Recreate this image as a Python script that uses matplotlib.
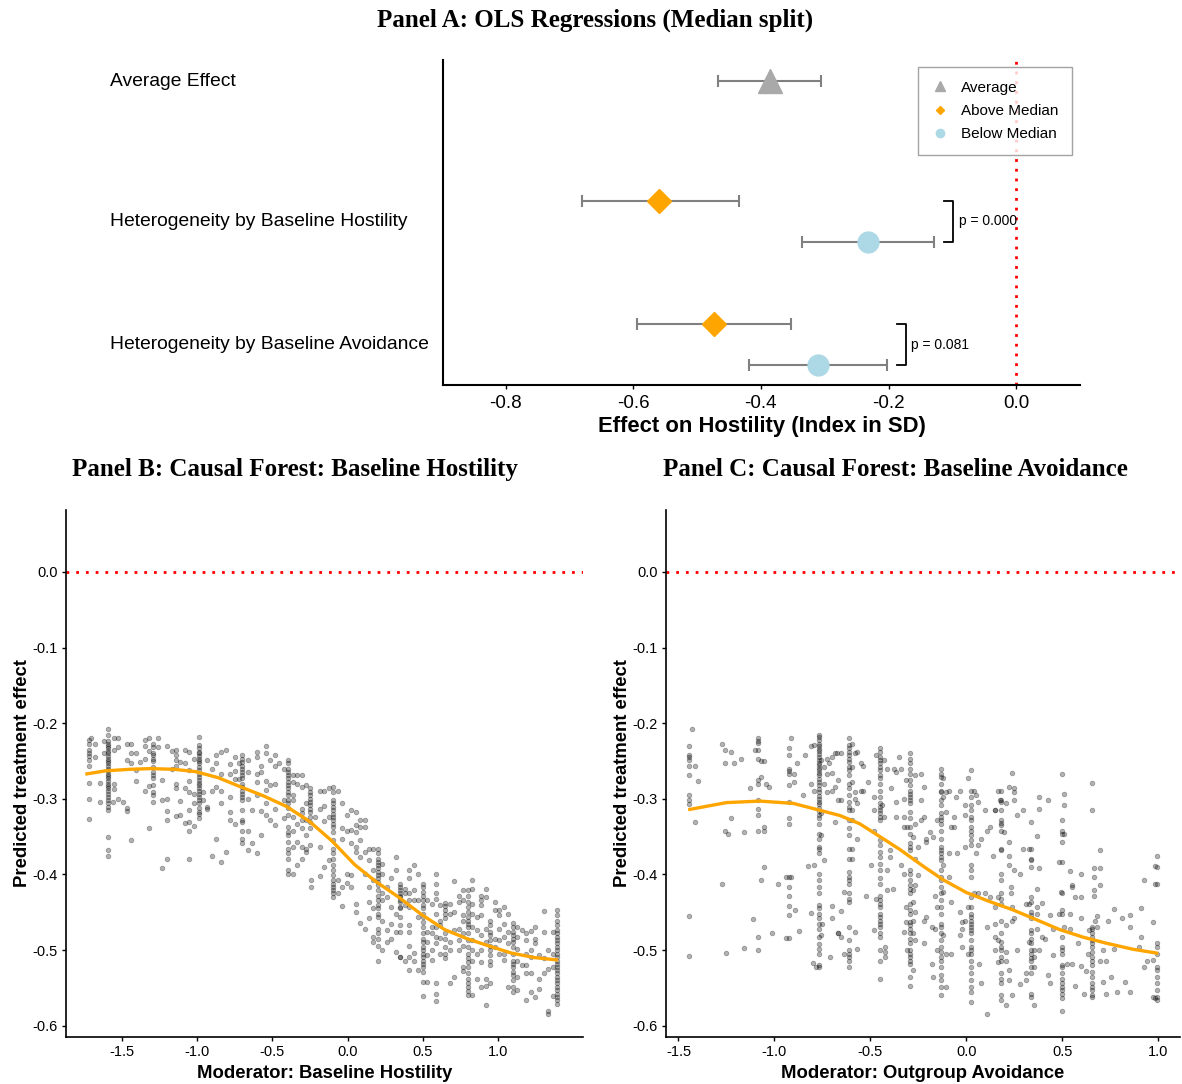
import numpy as np
import matplotlib.pyplot as plt
from matplotlib.lines import Line2D
from matplotlib.transforms import blended_transform_factory

plt.rcParams['font.family'] = ['Liberation Sans', 'DejaVu Sans']
plt.rcParams['axes.unicode_minus'] = False

# ---- Panel A: OLS estimates with 95% CIs ----
row_labels = ["Average Effect", "Heterogeneity by Baseline Hostility",
              "Heterogeneity by Baseline Avoidance"]
avg_est, avg_lo, avg_hi = -0.386, -0.467, -0.306
above_est = [-0.559, -0.474]
above_lo = [-0.681, -0.594]
above_hi = [-0.435, -0.352]
below_est = [-0.232, -0.311]
below_lo = [-0.335, -0.418]
below_hi = [-0.129, -0.203]
p_values = ["0.000", "0.081"]

# ---- Panel B: causal forest, baseline hostility ----
b_col_x = [-1.72, -1.59, -1.29, -0.99, -0.70, -0.394, -0.248, -0.097, 0.20, 0.35,
           0.497, 0.647, 0.796, 0.944, 1.095, 1.392]
b_col_y = [
    [-0.222, -0.227, -0.236, -0.240, -0.244, -0.248, -0.256, -0.279, -0.300, -0.327],
    [-0.207, -0.216, -0.223, -0.227, -0.230, -0.233, -0.237, -0.240, -0.244, -0.247, -0.250,
     -0.253, -0.257, -0.260, -0.263, -0.267, -0.270, -0.273, -0.276, -0.280, -0.283, -0.286,
     -0.290, -0.293, -0.297, -0.302, -0.306, -0.311, -0.315, -0.351, -0.368, -0.376],
    [-0.227, -0.231, -0.239, -0.242, -0.247, -0.250, -0.258, -0.264, -0.269, -0.273, -0.282,
     -0.291, -0.295, -0.304],
    [-0.218, -0.229, -0.233, -0.238, -0.240, -0.244, -0.247, -0.250, -0.253, -0.258, -0.262,
     -0.267, -0.271, -0.275, -0.279, -0.282, -0.286, -0.289, -0.293, -0.297, -0.302, -0.306,
     -0.312, -0.317, -0.320, -0.325],
    [-0.242, -0.247, -0.251, -0.256, -0.260, -0.264, -0.269, -0.273, -0.280, -0.284, -0.289,
     -0.293, -0.297, -0.302, -0.315, -0.328, -0.330, -0.342, -0.353, -0.359],
    [-0.249, -0.253, -0.260, -0.264, -0.269, -0.273, -0.278, -0.282, -0.286, -0.291, -0.295,
     -0.302, -0.306, -0.312, -0.322, -0.337, -0.344, -0.348, -0.357, -0.366, -0.372, -0.379,
     -0.394, -0.400],
    [-0.286, -0.291, -0.295, -0.300, -0.304, -0.308, -0.313, -0.317, -0.324, -0.331, -0.339,
     -0.361],
    [-0.284, -0.291, -0.302, -0.306, -0.311, -0.315, -0.320, -0.324, -0.328, -0.333, -0.337,
     -0.344, -0.355, -0.366, -0.372, -0.379, -0.388, -0.394, -0.401, -0.408, -0.412, -0.416,
     -0.421, -0.425, -0.430],
    [-0.366, -0.372, -0.379, -0.383, -0.388, -0.392, -0.397, -0.401, -0.405, -0.410, -0.414,
     -0.421, -0.428, -0.434, -0.441, -0.445, -0.452, -0.456, -0.472, -0.478, -0.485, -0.494],
    [-0.412, -0.416, -0.421, -0.425, -0.430, -0.434, -0.436, -0.443, -0.445, -0.456, -0.467,
     -0.476, -0.509],
    [-0.412, -0.416, -0.423, -0.428, -0.434, -0.441, -0.445, -0.452, -0.456, -0.463, -0.469,
     -0.478, -0.485, -0.489, -0.496, -0.500, -0.505, -0.509, -0.514, -0.518, -0.522, -0.529],
    [-0.438, -0.442, -0.447, -0.452, -0.458, -0.478, -0.485, -0.496, -0.505, -0.511],
    [-0.421, -0.428, -0.436, -0.443, -0.450, -0.456, -0.461, -0.465, -0.469, -0.478, -0.487,
     -0.496, -0.505, -0.511, -0.516, -0.522, -0.531, -0.538, -0.544, -0.549, -0.554, -0.560],
    [-0.461, -0.467, -0.476, -0.480, -0.487, -0.494, -0.500, -0.507, -0.514, -0.520, -0.544],
    [-0.464, -0.469, -0.476, -0.480, -0.485, -0.489, -0.496, -0.505, -0.514, -0.518, -0.522,
     -0.529, -0.533, -0.540, -0.549, -0.555],
    [-0.447, -0.454, -0.461, -0.467, -0.474, -0.478, -0.483, -0.487, -0.491, -0.496, -0.500,
     -0.505, -0.509, -0.514, -0.518, -0.522, -0.527, -0.531, -0.536, -0.540, -0.544, -0.549,
     -0.553, -0.558, -0.562, -0.566, -0.572],
]
b_scatter = [
    (-1.704, -0.220), (-1.676, -0.227), (-1.676, -0.245), (-1.645, -0.279), (-1.645, -0.304),
    (-1.616, -0.223), (-1.616, -0.240), (-1.554, -0.219), (-1.525, -0.219), (-1.525, -0.231),
    (-1.554, -0.236), (-1.554, -0.280), (-1.554, -0.287), (-1.560, -0.304), (-1.525, -0.300),
    (-1.494, -0.304), (-1.465, -0.312), (-1.465, -0.316), (-1.436, -0.355), (-1.465, -0.227),
    (-1.436, -0.228), (-1.436, -0.239), (-1.436, -0.253), (-1.465, -0.248), (-1.405, -0.239),
    (-1.405, -0.262), (-1.405, -0.276), (-1.376, -0.251), (-1.348, -0.222), (-1.348, -0.230),
    (-1.348, -0.247), (-1.348, -0.289), (-1.319, -0.219), (-1.319, -0.237), (-1.319, -0.283),
    (-1.319, -0.338), (-1.259, -0.220), (-1.259, -0.232), (-1.230, -0.275), (-1.230, -0.302),
    (-1.199, -0.230), (-1.199, -0.300), (-1.199, -0.316), (-1.199, -0.328), (-1.168, -0.237),
    (-1.168, -0.260), (-1.139, -0.235), (-1.139, -0.242), (-1.139, -0.249), (-1.139, -0.256),
    (-1.139, -0.281), (-1.139, -0.286), (-1.139, -0.323), (-1.110, -0.251), (-1.110, -0.303),
    (-1.110, -0.322), (-1.079, -0.236), (-1.079, -0.253), (-1.079, -0.286), (-1.079, -0.332),
    (-1.051, -0.238), (-1.051, -0.262), (-1.051, -0.276), (-1.051, -0.291), (-1.051, -0.315),
    (-1.051, -0.330), (-1.051, -0.342), (-1.022, -0.247), (-1.022, -0.293), (-1.022, -0.306),
    (-1.022, -0.336), (-1.199, -0.379), (-1.230, -0.391), (-1.051, -0.379), (-0.962, -0.291),
    (-0.962, -0.302), (-0.931, -0.249), (-0.931, -0.311), (-0.931, -0.314), (-0.900, -0.261),
    (-0.900, -0.289), (-0.900, -0.375), (-0.871, -0.242), (-0.871, -0.253), (-0.871, -0.285),
    (-0.871, -0.353), (-0.842, -0.238), (-0.842, -0.267), (-0.842, -0.289), (-0.842, -0.306),
    (-0.842, -0.383), (-0.811, -0.236), (-0.811, -0.370), (-0.782, -0.254), (-0.782, -0.267),
    (-0.782, -0.297), (-0.782, -0.317), (-0.782, -0.328), (-0.751, -0.245), (-0.751, -0.263),
    (-0.751, -0.274), (-0.751, -0.333), (-0.723, -0.253), (-0.723, -0.274),
    (-0.663, -0.249), (-0.663, -0.264), (-0.663, -0.300), (-0.663, -0.342), (-0.663, -0.368),
    (-0.634, -0.315), (-0.634, -0.358), (-0.603, -0.238), (-0.603, -0.245), (-0.603, -0.267),
    (-0.603, -0.278), (-0.603, -0.295), (-0.603, -0.372), (-0.574, -0.256), (-0.574, -0.264),
    (-0.574, -0.316), (-0.574, -0.348), (-0.545, -0.230), (-0.545, -0.240), (-0.545, -0.276),
    (-0.545, -0.288), (-0.545, -0.306), (-0.545, -0.322), (-0.514, -0.249), (-0.514, -0.282),
    (-0.514, -0.328), (-0.485, -0.242), (-0.485, -0.256), (-0.485, -0.280), (-0.485, -0.313),
    (-0.485, -0.335), (-0.456, -0.253), (-0.425, -0.260), (-0.425, -0.302), (-0.425, -0.325),
    (-0.366, -0.269), (-0.366, -0.278), (-0.366, -0.295), (-0.366, -0.302), (-0.366, -0.324),
    (-0.366, -0.342), (-0.366, -0.364), (-0.366, -0.400), (-0.337, -0.269), (-0.337, -0.280),
    (-0.337, -0.333), (-0.337, -0.357), (-0.337, -0.388), (-0.306, -0.269), (-0.306, -0.284),
    (-0.306, -0.313), (-0.306, -0.319), (-0.306, -0.328), (-0.306, -0.339), (-0.306, -0.364),
    (-0.306, -0.379), (-0.275, -0.282), (-0.275, -0.306), (-0.275, -0.328), (-0.275, -0.348),
    (-0.275, -0.366), (-0.275, -0.370), (-0.246, -0.408), (-0.246, -0.416), (-0.217, -0.324),
    (-0.186, -0.289), (-0.186, -0.313), (-0.186, -0.364), (-0.186, -0.402), (-0.155, -0.289),
    (-0.155, -0.310), (-0.155, -0.329), (-0.155, -0.390), (-0.126, -0.286), (-0.126, -0.324),
    (-0.126, -0.381), (-0.064, -0.289), (-0.064, -0.408), (-0.064, -0.425), (-0.035, -0.305),
    (-0.035, -0.338), (-0.035, -0.353), (-0.035, -0.417), (-0.035, -0.442), (-0.007, -0.322),
    (-0.007, -0.342), (-0.007, -0.399), (-0.007, -0.411), (0.024, -0.315), (0.024, -0.341),
    (0.024, -0.358), (0.024, -0.401), (0.024, -0.417), (0.053, -0.317), (0.053, -0.335),
    (0.053, -0.344), (0.053, -0.364), (0.053, -0.370), (0.053, -0.439), (0.053, -0.450),
    (0.082, -0.328), (0.082, -0.337), (0.082, -0.355), (0.082, -0.377), (0.082, -0.464),
    (0.113, -0.328), (0.113, -0.337), (0.113, -0.370), (0.113, -0.400), (0.113, -0.472),
    (0.142, -0.366), (0.142, -0.381), (0.142, -0.417), (0.142, -0.436), (0.142, -0.458),
    (0.171, -0.366), (0.171, -0.394), (0.171, -0.408), (0.171, -0.445), (0.171, -0.483),
    (0.171, -0.489), (0.231, -0.386), (0.231, -0.399), (0.231, -0.425), (0.231, -0.434),
    (0.231, -0.461), (0.231, -0.500), (0.259, -0.417), (0.259, -0.430), (0.259, -0.474),
    (0.259, -0.489), (0.290, -0.405), (0.290, -0.443), (0.290, -0.465), (0.290, -0.485),
    (0.319, -0.377), (0.319, -0.394), (0.319, -0.452), (0.319, -0.476), (0.319, -0.502),
    (0.350, -0.428), (0.350, -0.509), (0.379, -0.419), (0.379, -0.514), (0.202, -0.514),
    (0.408, -0.394), (0.408, -0.405), (0.408, -0.424), (0.408, -0.434), (0.408, -0.443),
    (0.408, -0.467), (0.408, -0.476), (0.408, -0.495), (0.408, -0.509), (0.408, -0.527),
    (0.439, -0.388), (0.439, -0.421), (0.439, -0.434), (0.439, -0.504), (0.439, -0.514),
    (0.379, -0.425), (0.379, -0.441), (0.468, -0.400), (0.468, -0.434), (0.468, -0.456),
    (0.468, -0.527), (0.497, -0.542), (0.497, -0.561), (0.528, -0.434), (0.528, -0.476),
    (0.528, -0.489), (0.528, -0.507), (0.528, -0.542), (0.557, -0.439), (0.557, -0.469),
    (0.557, -0.478), (0.557, -0.500), (0.557, -0.513), (0.585, -0.399), (0.585, -0.412),
    (0.585, -0.425), (0.585, -0.432), (0.585, -0.452), (0.585, -0.469), (0.585, -0.483),
    (0.585, -0.491), (0.585, -0.544), (0.585, -0.558), (0.585, -0.567), (0.616, -0.441),
    (0.616, -0.461), (0.616, -0.467), (0.616, -0.484), (0.616, -0.505), (0.678, -0.439),
    (0.678, -0.452), (0.678, -0.489), (0.678, -0.500), (0.678, -0.544), (0.707, -0.409),
    (0.707, -0.450), (0.707, -0.474), (0.707, -0.536), (0.736, -0.428), (0.736, -0.436),
    (0.736, -0.472), (0.736, -0.487), (0.736, -0.500), (0.767, -0.421), (0.767, -0.434),
    (0.767, -0.454), (0.767, -0.461), (0.767, -0.478), (0.767, -0.494), (0.767, -0.522),
    (0.767, -0.528), (0.827, -0.408), (0.827, -0.419), (0.827, -0.439), (0.827, -0.452),
    (0.827, -0.469), (0.827, -0.487), (0.827, -0.500), (0.827, -0.514), (0.827, -0.560),
    (0.856, -0.456), (0.856, -0.474), (0.856, -0.505), (0.856, -0.538), (0.887, -0.428),
    (0.887, -0.434), (0.887, -0.441), (0.887, -0.454), (0.887, -0.480), (0.887, -0.500),
    (0.887, -0.516), (0.887, -0.549), (0.916, -0.419), (0.916, -0.430), (0.916, -0.472),
    (0.916, -0.489), (0.916, -0.538), (0.916, -0.547), (0.916, -0.573), (0.975, -0.436),
    (0.975, -0.447), (0.975, -0.485), (0.975, -0.496), (1.004, -0.447), (1.004, -0.454),
    (1.004, -0.472), (1.004, -0.487), (1.004, -0.505), (1.035, -0.443), (1.035, -0.465),
    (1.035, -0.483), (1.035, -0.505), (1.035, -0.513), (1.066, -0.452), (1.066, -0.476),
    (1.066, -0.491), (1.066, -0.549), (1.126, -0.469), (1.126, -0.483), (1.126, -0.499),
    (1.126, -0.514), (1.126, -0.536), (1.126, -0.553), (1.155, -0.474), (1.155, -0.520),
    (1.184, -0.478), (1.184, -0.487), (1.184, -0.505), (1.184, -0.520), (1.184, -0.531),
    (1.184, -0.566), (1.215, -0.475), (1.215, -0.500), (1.215, -0.509), (1.215, -0.531),
    (1.215, -0.555), (1.244, -0.469), (1.244, -0.485), (1.244, -0.491), (1.244, -0.562),
    (1.272, -0.507), (1.272, -0.538), (1.272, -0.551), (1.303, -0.448), (1.303, -0.476),
    (1.303, -0.511), (1.303, -0.531), (1.332, -0.500), (1.332, -0.525), (1.332, -0.581),
    (1.332, -0.584), (1.361, -0.476), (1.361, -0.505), (1.361, -0.522), (1.361, -0.561),
]
b_curve_x = [-1.731, -1.609, -1.45, -1.310, -1.15, -1.011, -0.86, -0.713, -0.56, -0.407,
             -0.253, -0.103, 0.046, 0.184, 0.345, 0.490, 0.644, 0.793, 0.943, 1.087,
             1.241, 1.386]
b_curve_y = [-0.267, -0.263, -0.261, -0.260, -0.261, -0.264, -0.272, -0.284, -0.296, -0.310,
             -0.330, -0.356, -0.387, -0.409, -0.431, -0.453, -0.473, -0.485, -0.495, -0.504,
             -0.510, -0.513]

# ---- Panel C: causal forest, outgroup avoidance ----
c_col_x = [-1.443, -1.085, -0.926, -0.770, -0.611, -0.452, -0.296, -0.135, 0.021, 0.181,
           0.337, 0.496, 0.654, 0.990]
c_col_y = [
    [-0.230, -0.242, -0.245, -0.249, -0.256, -0.269, -0.295, -0.302, -0.307, -0.455, -0.508],
    [-0.220, -0.223, -0.226, -0.235, -0.247, -0.275, -0.281, -0.302, -0.313, -0.322, -0.342],
    [-0.233, -0.242, -0.260, -0.263, -0.267, -0.282, -0.304, -0.325, -0.333, -0.403, -0.416,
     -0.428, -0.442, -0.454, -0.484],
    [-0.215, -0.218, -0.222, -0.227, -0.230, -0.234, -0.237, -0.241, -0.245, -0.248, -0.252,
     -0.255, -0.259, -0.262, -0.266, -0.269, -0.274, -0.278, -0.282, -0.287, -0.291, -0.296,
     -0.300, -0.304, -0.307, -0.312, -0.316, -0.322, -0.326, -0.333, -0.346, -0.353, -0.364,
     -0.367, -0.372, -0.399, -0.408, -0.417, -0.424, -0.441, -0.445, -0.452, -0.458, -0.465,
     -0.472, -0.483, -0.492, -0.498, -0.505, -0.520, -0.522],
    [-0.220, -0.229, -0.233, -0.238, -0.242, -0.247, -0.251, -0.258, -0.262, -0.269, -0.280,
     -0.286, -0.295, -0.304, -0.311, -0.315, -0.328, -0.339, -0.348, -0.366, -0.379, -0.397,
     -0.403, -0.408, -0.412, -0.425, -0.432, -0.436, -0.469, -0.487, -0.500, -0.505, -0.509,
     -0.514, -0.522],
    [-0.233, -0.238, -0.245, -0.249, -0.253, -0.258, -0.262, -0.269, -0.273, -0.280, -0.289,
     -0.297, -0.306, -0.311, -0.315, -0.319, -0.324, -0.328, -0.355, -0.361, -0.370, -0.377,
     -0.386, -0.394, -0.405, -0.412, -0.428, -0.434, -0.439, -0.443, -0.452, -0.456, -0.461,
     -0.465, -0.469, -0.478, -0.483, -0.500, -0.514, -0.538],
    [-0.240, -0.247, -0.253, -0.260, -0.267, -0.275, -0.282, -0.289, -0.293, -0.297, -0.302,
     -0.306, -0.317, -0.326, -0.337, -0.346, -0.359, -0.364, -0.368, -0.394, -0.399, -0.408,
     -0.414, -0.419, -0.425, -0.439, -0.447, -0.452, -0.463, -0.467, -0.472, -0.478, -0.485,
     -0.491, -0.500, -0.505, -0.509, -0.514, -0.518, -0.536, -0.547],
    [-0.260, -0.267, -0.271, -0.280, -0.289, -0.291, -0.302, -0.308, -0.319, -0.324, -0.328,
     -0.333, -0.342, -0.353, -0.364, -0.368, -0.372, -0.377, -0.381, -0.394, -0.403, -0.408,
     -0.417, -0.425, -0.434, -0.443, -0.452, -0.465, -0.469, -0.478, -0.487, -0.496, -0.502,
     -0.509, -0.514, -0.522, -0.533, -0.540, -0.549, -0.560],
    [-0.262, -0.289, -0.297, -0.308, -0.315, -0.324, -0.328, -0.337, -0.342, -0.348, -0.355,
     -0.361, -0.388, -0.394, -0.403, -0.430, -0.443, -0.452, -0.456, -0.461, -0.465, -0.469,
     -0.474, -0.478, -0.487, -0.496, -0.500, -0.505, -0.514, -0.522, -0.531, -0.540, -0.549,
     -0.555, -0.569],
    [-0.289, -0.302, -0.304, -0.315, -0.328, -0.332, -0.335, -0.342, -0.366, -0.368, -0.399,
     -0.408, -0.425, -0.432, -0.439, -0.461, -0.478, -0.489, -0.496, -0.500, -0.509, -0.514,
     -0.531, -0.538, -0.544, -0.560, -0.566],
    [-0.331, -0.366, -0.379, -0.381, -0.390, -0.430, -0.436, -0.450, -0.454, -0.458, -0.474,
     -0.478, -0.485, -0.491, -0.500, -0.505, -0.511, -0.514, -0.522, -0.531, -0.558, -0.562],
    [-0.267, -0.328, -0.342, -0.346, -0.357, -0.383, -0.425, -0.447, -0.452, -0.483, -0.496,
     -0.500, -0.505, -0.520, -0.522, -0.531, -0.538, -0.544, -0.549, -0.553, -0.558, -0.564,
     -0.580],
    [-0.279, -0.315, -0.469, -0.472, -0.478, -0.483, -0.487, -0.491, -0.496, -0.502, -0.509,
     -0.514, -0.520, -0.529, -0.536, -0.544, -0.549, -0.553, -0.560, -0.562],
    [-0.376, -0.390, -0.413, -0.491, -0.496, -0.505, -0.522, -0.527, -0.536, -0.544, -0.553,
     -0.562, -0.566],
]
c_scatter = [
    (-1.431, -0.207), (-1.414, -0.257), (-1.400, -0.276), (-1.414, -0.330), (-1.272, -0.227),
    (-1.258, -0.236), (-1.258, -0.252), (-1.229, -0.238), (-1.213, -0.253), (-1.172, -0.247),
    (-1.128, -0.286), (-1.100, -0.235), (-1.071, -0.250), (-1.055, -0.250), (-1.071, -0.271),
    (-1.042, -0.280), (-1.028, -0.284), (-1.229, -0.325), (-1.258, -0.343), (-1.244, -0.346),
    (-1.158, -0.344), (-1.055, -0.337), (-1.055, -0.343), (-0.912, -0.219), (-0.898, -0.267),
    (-0.898, -0.278), (-0.884, -0.253), (-0.854, -0.295), (-0.839, -0.242), (-0.811, -0.230),
    (-0.796, -0.229), (-0.811, -0.281), (-0.796, -0.289), (-0.825, -0.389), (-0.796, -0.388),
    (-1.272, -0.413), (-1.071, -0.408), (-1.055, -0.390), (-0.984, -0.413), (-0.941, -0.403),
    (-0.912, -0.404), (-0.891, -0.447), (-0.811, -0.451), (-1.114, -0.459), (-1.085, -0.483),
    (-1.014, -0.478), (-0.941, -0.484), (-0.870, -0.475), (-1.158, -0.497), (-1.085, -0.500),
    (-1.255, -0.504), (-0.797, -0.517), (-0.783, -0.522), (-0.756, -0.249), (-0.742, -0.258),
    (-0.728, -0.247), (-0.714, -0.253), (-0.742, -0.280), (-0.728, -0.291), (-0.700, -0.289),
    (-0.683, -0.284), (-0.669, -0.275), (-0.756, -0.319), (-0.756, -0.348), (-0.742, -0.381),
    (-0.699, -0.245), (-0.683, -0.240), (-0.725, -0.267), (-0.699, -0.266), (-0.669, -0.302),
    (-0.683, -0.331), (-0.699, -0.442), (-0.699, -0.458), (-0.669, -0.478), (-0.712, -0.509),
    (-0.756, -0.480), (-0.754, -0.465),
    (-0.677, -0.240), (-0.655, -0.240), (-0.655, -0.302), (-0.655, -0.448), (-0.669, -0.477),
    (-0.655, -0.483), (-0.637, -0.505), (-0.637, -0.423), (-0.596, -0.227), (-0.596, -0.258),
    (-0.596, -0.278), (-0.596, -0.315), (-0.596, -0.328), (-0.596, -0.366), (-0.596, -0.379),
    (-0.582, -0.240), (-0.582, -0.291), (-0.582, -0.300), (-0.582, -0.476), (-0.568, -0.238),
    (-0.568, -0.306), (-0.568, -0.353), (-0.568, -0.498), (-0.551, -0.253), (-0.551, -0.289),
    (-0.539, -0.256), (-0.539, -0.289), (-0.521, -0.428), (-0.513, -0.278), (-0.495, -0.388),
    (-0.482, -0.342), (-0.482, -0.297), (-0.482, -0.474), (-0.482, -0.315), (-0.469, -0.433),
    (-0.469, -0.242), (-0.440, -0.308), (-0.430, -0.324), (-0.430, -0.249), (-0.423, -0.509),
    (-0.423, -0.503), (-0.423, -0.496), (-0.412, -0.260), (-0.412, -0.394), (-0.412, -0.421),
    (-0.400, -0.368), (-0.400, -0.377), (-0.395, -0.286), (-0.383, -0.419), (-0.378, -0.261),
    (-0.365, -0.264), (-0.365, -0.304), (-0.365, -0.324), (-0.353, -0.245), (-0.340, -0.260),
    (-0.340, -0.388), (-0.326, -0.300), (-0.326, -0.324), (-0.326, -0.337), (-0.326, -0.399),
    (-0.326, -0.476), (-0.313, -0.463), (-0.313, -0.443), (-0.313, -0.275), (-0.308, -0.337),
    (-0.308, -0.500), (-0.279, -0.350), (-0.279, -0.421), (-0.279, -0.436), (-0.279, -0.461),
    (-0.279, -0.478), (-0.279, -0.527), (-0.270, -0.269), (-0.267, -0.333), (-0.267, -0.379),
    (-0.267, -0.414), (-0.267, -0.450), (-0.267, -0.487), (-0.253, -0.364), (-0.253, -0.401),
    (-0.239, -0.267), (-0.239, -0.302), (-0.239, -0.328), (-0.222, -0.284), (-0.222, -0.324),
    (-0.222, -0.461), (-0.222, -0.491), (-0.210, -0.353), (-0.210, -0.357), (-0.210, -0.456),
    (-0.192, -0.344), (-0.178, -0.469), (-0.178, -0.518), (-0.175, -0.350), (-0.175, -0.536),
    (-0.166, -0.428), (-0.166, -0.472), (-0.152, -0.328), (-0.152, -0.443), (-0.152, -0.500),
    (-0.123, -0.273), (-0.123, -0.297), (-0.123, -0.388), (-0.123, -0.423), (-0.123, -0.480),
    (-0.106, -0.549), (-0.106, -0.291), (-0.106, -0.317), (-0.106, -0.505), (-0.093, -0.289),
    (-0.093, -0.372), (-0.093, -0.403), (-0.080, -0.337), (-0.080, -0.436), (-0.080, -0.505),
    (-0.066, -0.324), (-0.066, -0.337), (-0.054, -0.297), (-0.050, -0.372), (-0.036, -0.289),
    (-0.036, -0.450), (-0.036, -0.480), (-0.023, -0.463), (-0.023, -0.472), (-0.023, -0.496),
    (-0.007, -0.308), (-0.007, -0.322), (-0.007, -0.364), (-0.007, -0.461), (0.007, -0.273),
    (0.007, -0.443), (0.007, -0.505), (0.038, -0.289), (0.038, -0.425), (0.050, -0.295),
    (0.050, -0.372), (0.062, -0.304), (0.062, -0.361), (0.062, -0.425), (0.064, -0.518),
    (0.076, -0.544), (0.078, -0.353), (0.094, -0.315), (0.094, -0.425), (0.107, -0.343),
    (0.107, -0.469), (0.107, -0.584), (0.120, -0.337), (0.120, -0.430), (0.137, -0.375),
    (0.151, -0.315), (0.163, -0.487), (0.166, -0.430), (0.163, -0.289), (0.172, -0.302),
    (0.146, -0.315), (0.146, -0.443), (0.146, -0.465), (0.146, -0.483), (0.146, -0.500),
    (0.163, -0.516), (0.195, -0.344), (0.208, -0.306), (0.208, -0.467), (0.208, -0.503),
    (0.208, -0.514), (0.208, -0.573), (0.222, -0.284), (0.222, -0.375), (0.222, -0.388),
    (0.222, -0.357), (0.222, -0.527), (0.222, -0.540), (0.233, -0.417), (0.233, -0.425),
    (0.236, -0.266), (0.236, -0.443), (0.236, -0.461), (0.236, -0.560), (0.250, -0.286),
    (0.250, -0.291), (0.250, -0.302), (0.250, -0.394), (0.250, -0.458), (0.264, -0.322),
    (0.264, -0.500), (0.279, -0.399), (0.279, -0.545), (0.293, -0.315), (0.293, -0.366),
    (0.309, -0.439), (0.309, -0.531), (0.309, -0.540), (0.323, -0.366), (0.323, -0.439),
    (0.323, -0.489), (0.350, -0.500), (0.350, -0.509), (0.350, -0.522), (0.350, -0.573),
    (0.366, -0.349), (0.366, -0.419), (0.366, -0.443), (0.366, -0.452), (0.366, -0.472),
    (0.380, -0.298), (0.380, -0.314), (0.380, -0.392), (0.380, -0.500), (0.394, -0.438),
    (0.394, -0.483), (0.408, -0.485), (0.423, -0.302), (0.423, -0.533), (0.437, -0.454),
    (0.437, -0.544), (0.451, -0.472), (0.451, -0.507), (0.480, -0.452), (0.480, -0.383),
    (0.494, -0.423), (0.508, -0.293), (0.508, -0.308), (0.508, -0.346), (0.508, -0.469),
    (0.524, -0.518), (0.538, -0.395), (0.538, -0.452), (0.538, -0.472), (0.551, -0.414),
    (0.551, -0.417), (0.551, -0.518), (0.567, -0.430), (0.567, -0.547), (0.581, -0.491),
    (0.596, -0.399), (0.596, -0.430), (0.596, -0.457), (0.596, -0.521), (0.610, -0.558),
    (0.624, -0.528), (0.631, -0.505), (0.640, -0.474), (0.666, -0.392), (0.666, -0.403),
    (0.666, -0.420), (0.666, -0.429), (0.667, -0.461), (0.681, -0.455), (0.681, -0.470),
    (0.695, -0.368), (0.695, -0.391), (0.695, -0.414), (0.695, -0.514), (0.709, -0.500),
    (0.709, -0.542), (0.725, -0.514), (0.725, -0.558), (0.739, -0.461), (0.752, -0.536),
    (0.766, -0.446), (0.766, -0.498), (0.782, -0.555), (0.810, -0.458), (0.825, -0.542),
    (0.853, -0.453), (0.853, -0.469), (0.853, -0.555), (0.896, -0.496), (0.910, -0.483),
    (0.910, -0.445), (0.926, -0.407), (0.926, -0.522), (0.939, -0.514), (0.969, -0.463),
    (0.969, -0.513), (0.983, -0.389), (0.983, -0.413), (0.983, -0.564), (0.969, -0.562),
]
c_curve_x = [-1.441, -1.25, -1.076, -0.903, -0.781, -0.660, -0.556, -0.451, -0.347, -0.226,
             -0.122, 0.0, 0.122, 0.243, 0.365, 0.486, 0.608, 0.729, 0.868, 0.990]
c_curve_y = [-0.314, -0.305, -0.303, -0.306, -0.314, -0.322, -0.333, -0.350, -0.367, -0.389,
             -0.407, -0.424, -0.436, -0.447, -0.460, -0.473, -0.483, -0.491, -0.499, -0.504]

W, H = 1182, 1084
fig = plt.figure(figsize=(W / 100, H / 100), dpi=100)


def box(l, t, r, b):
    return [l / W, 1 - b / H, (r - l) / W, (b - t) / H]


title_font = dict(family=['Liberation Serif', 'DejaVu Serif'], fontweight='bold', fontsize=18)
RED_DOTS = (0, (1, 2.5))

# ---------------- Panel A ----------------
axA = fig.add_axes(box(443, 60, 1080, 385))
y_avg = 304
y_above = [184, 61]
y_below = [143, 20]
err_kw = dict(color='#808080', lw=1.5, capsize=4, capthick=1.5, ls='none', zorder=2)

axA.errorbar([avg_est], [y_avg], xerr=[[avg_est - avg_lo], [avg_hi - avg_est]], **err_kw)
axA.errorbar(above_est, y_above,
             xerr=[np.subtract(above_est, above_lo), np.subtract(above_hi, above_est)], **err_kw)
axA.errorbar(below_est, y_below,
             xerr=[np.subtract(below_est, below_lo), np.subtract(below_hi, below_est)], **err_kw)
axA.plot([avg_est], [y_avg], marker='^', ms=17, color='#A9A9A9', ls='none', zorder=3)
axA.plot(above_est, y_above, marker='D', ms=12, color='#FFA500', ls='none', zorder=3)
axA.plot(below_est, y_below, marker='o', ms=15, color='#ADD8E6', ls='none', zorder=3)

axA.axvline(0, color='red', lw=2, ls=RED_DOTS, zorder=1)

# brackets linking above/below estimates with the p-value of the difference
for i in range(2):
    xb = max(above_hi[i], below_hi[i]) + 0.030
    axA.plot([xb - 0.014, xb, xb, xb - 0.014], [y_above[i], y_above[i], y_below[i], y_below[i]],
             color='black', lw=1.3)
    axA.text(xb + 0.009, (y_above[i] + y_below[i]) / 2, f"p = {p_values[i]}",
             fontsize=10, va='center', ha='left')

axA.set_xlim(-0.898, 0.100)
axA.set_ylim(0, 325)
axA.set_xticks([-0.8, -0.6, -0.4, -0.2, 0.0])
axA.set_xticklabels(["-0.8", "-0.6", "-0.4", "-0.2", "0.0"])
axA.set_yticks([])
axA.tick_params(axis='x', labelsize=13.5, length=3, width=1, pad=4)
for s in ['top', 'right']:
    axA.spines[s].set_visible(False)
for s in ['left', 'bottom']:
    axA.spines[s].set_linewidth(1.5)
axA.set_xlabel("Effect on Hostility (Index in SD)", fontsize=15.8, fontweight='bold', labelpad=3)

lab_tr = blended_transform_factory(fig.transFigure, axA.transData)
row_y = [y_avg, (y_above[0] + y_below[0]) / 2, (y_above[1] + y_below[1]) / 2]
for lab, yy in zip(row_labels, row_y):
    axA.text(110 / W, yy, lab, transform=lab_tr, fontsize=13.9, va='center', ha='left')

handles = [Line2D([], [], marker='^', ms=7, color='#A9A9A9', ls='none'),
           Line2D([], [], marker='D', ms=4.5, color='#FFA500', ls='none'),
           Line2D([], [], marker='o', ms=6, color='#ADD8E6', ls='none')]
leg = axA.legend(handles, ["Average", "Above Median", "Below Median"], loc='upper left',
                 bbox_to_anchor=(0.7457, 0.9785), fontsize=11, frameon=True, fancybox=False,
                 borderpad=0.9, labelspacing=0.6, handletextpad=0.84, handlelength=1.07,
                 borderaxespad=0)
leg.get_frame().set_edgecolor('#8c8c8c')
leg.get_frame().set_linewidth(1.0)

fig.text(595 / W, 1 - 20 / H, "Panel A: OLS Regressions (Median split)",
         ha='center', va='center', **title_font)


# ---------------- Panels B and C ----------------
def forest_panel(ax, col_x, col_y, scatter, cx, cy, xlim, xticks):
    xs = np.concatenate([np.full(len(v), x) for x, v in zip(col_x, col_y)] +
                        [np.array([p[0] for p in scatter])])
    ys = np.concatenate([np.array(v) for v in col_y] + [np.array([p[1] for p in scatter])])
    ax.axhline(0, color='red', lw=2, ls=RED_DOTS, zorder=1)
    ax.scatter(xs, ys, s=11, c='black', alpha=0.3, linewidths=0.6, edgecolors='black', zorder=2)
    ax.plot(cx, cy, color='#FFA500', lw=2.4, zorder=3)
    ax.set_xlim(*xlim)
    ax.set_ylim(-0.615, 0.082)
    ax.set_xticks(xticks)
    ax.set_xticklabels([f"{t:.1f}" for t in xticks])
    yt = [0.0, -0.1, -0.2, -0.3, -0.4, -0.5, -0.6]
    ax.set_yticks(yt)
    ax.set_yticklabels([f"{t:.1f}" for t in yt])
    ax.tick_params(labelsize=10.5, length=3, width=1, pad=3)
    for s in ['top', 'right']:
        ax.spines[s].set_visible(False)
    for s in ['left', 'bottom']:
        ax.spines[s].set_linewidth(1.2)
    ax.set_ylabel("Predicted treatment effect", fontsize=13.3, fontweight='bold', labelpad=1)


axB = fig.add_axes(box(66, 510, 583, 1037))
forest_panel(axB, b_col_x, b_col_y, b_scatter, b_curve_x, b_curve_y,
             (-1.870, 1.562), [-1.5, -1.0, -0.5, 0.0, 0.5, 1.0])
axB.set_xlabel("Moderator: Baseline Hostility", fontsize=13.3, fontweight='bold', labelpad=4)

axC = fig.add_axes(box(666, 510, 1180, 1037))
forest_panel(axC, c_col_x, c_col_y, c_scatter, c_curve_x, c_curve_y,
             (-1.565, 1.112), [-1.5, -1.0, -0.5, 0.0, 0.5, 1.0])
axC.set_xlabel("Moderator: Outgroup Avoidance", fontsize=13.3, fontweight='bold', labelpad=4)

fig.text(295 / W, 1 - 469 / H, "Panel B: Causal Forest: Baseline Hostility",
         ha='center', va='center', **title_font)
fig.text(895 / W, 1 - 469 / H, "Panel C: Causal Forest: Baseline Avoidance",
         ha='center', va='center', **title_font)

fig.savefig("out.png", dpi=100)
